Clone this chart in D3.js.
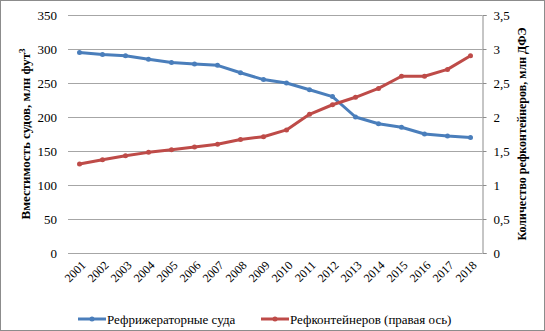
<!DOCTYPE html>
<html>
<head>
<meta charset="utf-8">
<script src="https://cdn.jsdelivr.net/npm/d3@7"></script>
<style>
  body { margin: 0; background: #fff; }
  text { font-family: "Liberation Serif", "Times New Roman", serif; fill: #000; }
</style>
</head>
<body>
<div id="chart"></div>
<script>
// Data
const years = ["2001", "2002", "2003", "2004", "2005", "2006", "2007", "2008", "2009",
               "2010", "2011", "2012", "2013", "2014", "2015", "2016", "2017", "2018"];
const ships = [295, 292, 290, 285, 280, 278, 276, 265, 255, 250, 240, 230, 200, 190, 185, 175, 172, 170];
const containers = [1.31, 1.37, 1.43, 1.48, 1.52, 1.56, 1.6, 1.67, 1.71, 1.81, 2.04, 2.18, 2.29, 2.42, 2.6, 2.6, 2.7, 2.9];
const leftTicks = [0, 50, 100, 150, 200, 250, 300, 350];
const rightTicks = [0, 0.5, 1, 1.5, 2, 2.5, 3, 3.5];

const W = 545, H = 331;
const margin = { top: 15, right: 63, bottom: 78, left: 68 };
const width = W - margin.left - margin.right,
      height = H - margin.top - margin.bottom;

const svgRoot = d3.select("#chart").append("svg")
    .attr("width", W).attr("height", H);

// outer frame
svgRoot.append("rect")
    .attr("x", 0.5).attr("y", 0.5)
    .attr("width", W - 1).attr("height", H - 1)
    .attr("fill", "#fff").attr("stroke", "#8c8c8c");

const svg = svgRoot.append("g")
    .attr("transform", `translate(${margin.left},${margin.top})`);

// Scales
const x = d3.scaleBand().domain(years).range([0, width]);
const yL = d3.scaleLinear().domain([0, 350]).range([height, 0]);
const yR = d3.scaleLinear().domain([0, 3.5]).range([height, 0]);

// Gridlines
svg.append("g")
   .selectAll("line")
   .data(leftTicks)
   .enter().append("line")
   .attr("x1", 0).attr("x2", width)
   .attr("y1", d => Math.round(yL(d)) + 0.5)
   .attr("y2", d => Math.round(yL(d)) + 0.5)
   .attr("stroke", "#a6a6a6").attr("stroke-width", 1.2);

// Left axis labels
svg.append("g")
   .selectAll("text")
   .data(leftTicks)
   .enter().append("text")
   .attr("x", -11).attr("y", d => yL(d))
   .attr("dy", "0.35em")
   .attr("text-anchor", "end")
   .style("font-size", "13px")
   .text(d => d);

// Right axis
const rightAxis = svg.append("g")
   .attr("transform", `translate(${width + 0.5},0)`)
   .call(d3.axisRight(yR).tickValues(rightTicks).tickSize(4).tickPadding(7)
          .tickFormat(d => String(d).replace(".", ",")));
rightAxis.select(".domain").attr("stroke", "#8c8c8c");
rightAxis.selectAll(".tick line").attr("stroke", "#8c8c8c");
rightAxis.selectAll("text")
   .style("font-size", "13px")
   .style("font-family", "'Liberation Serif', serif")
   .attr("fill", "#000");

// X labels rotated
svg.append("g")
   .selectAll("text")
   .data(years)
   .enter().append("text")
   .attr("transform", d => `translate(${x(d) + x.bandwidth() / 2 + 4},${height + 10}) rotate(-45)`)
   .attr("text-anchor", "end")
   .attr("dy", "0.35em")
   .style("font-size", "12px")
   .text(d => d);

// Lines
const lineL = d3.line()
    .x((d, i) => x(years[i]) + x.bandwidth() / 2)
    .y(d => yL(d));
const lineR = d3.line()
    .x((d, i) => x(years[i]) + x.bandwidth() / 2)
    .y(d => yR(d));

const series = [
    { values: ships, line: lineL, y: yL, color: "#4a7ebb" },
    { values: containers, line: lineR, y: yR, color: "#be4b48" }
];

series.forEach(s => {
    svg.append("path")
       .datum(s.values)
       .attr("d", s.line)
       .attr("fill", "none")
       .attr("stroke", s.color)
       .attr("stroke-width", 3)
       .attr("stroke-linejoin", "round");
    svg.append("g")
       .selectAll("circle")
       .data(s.values)
       .enter().append("circle")
       .attr("cx", (d, i) => x(years[i]) + x.bandwidth() / 2)
       .attr("cy", d => s.y(d))
       .attr("r", 2.5)
       .attr("fill", s.color);
});

// Axis titles
svgRoot.append("text")
   .attr("transform", `translate(30,${margin.top + height / 2}) rotate(-90)`)
   .attr("text-anchor", "middle")
   .style("font-size", "13px")
   .style("font-weight", "bold")
   .html("Вместимость судов, млн фут<tspan dy='-5' style='font-size:9px'>3</tspan>");

svgRoot.append("text")
   .attr("transform", `translate(526,${margin.top + height / 2}) rotate(-90)`)
   .attr("text-anchor", "middle")
   .style("font-size", "12px")
   .style("font-weight", "bold")
   .text("Количество рефконтейнеров, млн ДФЭ");

// Legend
const legendItems = [
    { label: "Рефрижераторные суда", color: "#4a7ebb", x: 78 },
    { label: "Рефконтейнеров (правая ось)", color: "#be4b48", x: 261 }
];
const legend = svgRoot.append("g").attr("transform", "translate(0,319)");
legendItems.forEach(d => {
    legend.append("line")
       .attr("x1", d.x).attr("x2", d.x + 28)
       .attr("y1", 0).attr("y2", 0)
       .attr("stroke", d.color).attr("stroke-width", 3);
    legend.append("circle")
       .attr("cx", d.x + 14).attr("cy", 0).attr("r", 2.5)
       .attr("fill", d.color);
    legend.append("text")
       .attr("x", d.x + 29).attr("y", 0)
       .attr("dy", "0.35em")
       .style("font-size", "13px")
       .text(d.label);
});
</script>
</body>
</html>
